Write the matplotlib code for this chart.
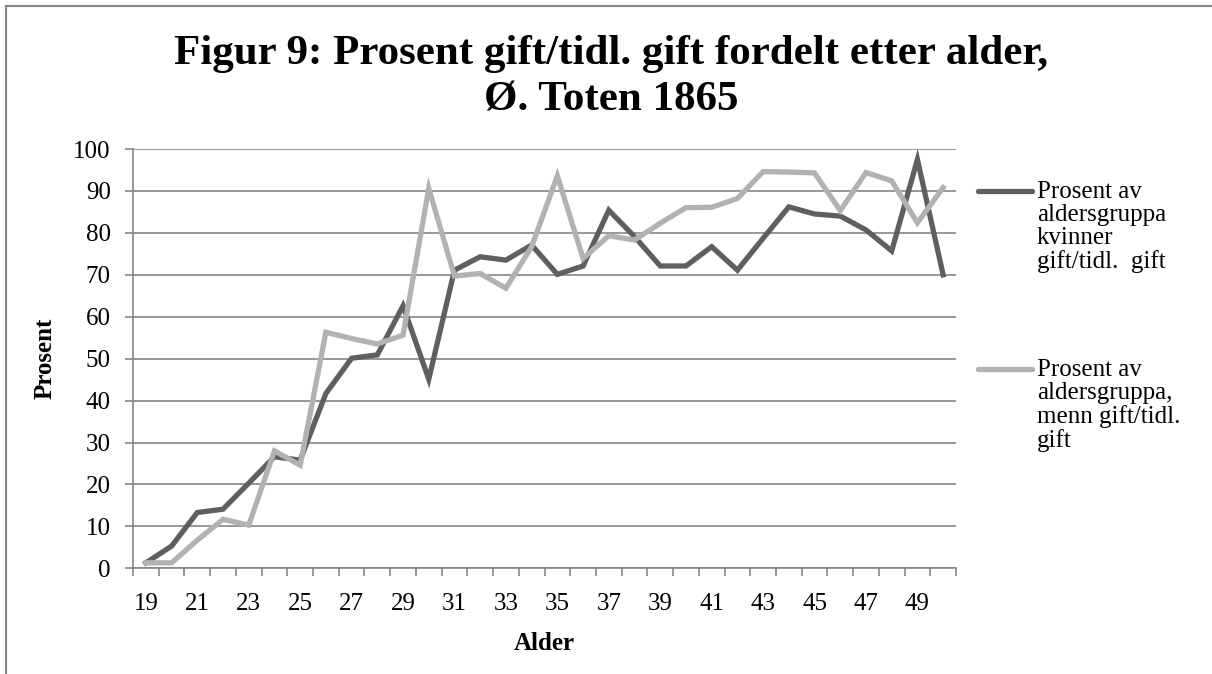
#!/usr/bin/env python3
import matplotlib
matplotlib.use("Agg")
import matplotlib.pyplot as plt
from matplotlib.lines import Line2D

# Alder 19..50
ages = list(range(19, 51))
# Prosent av aldersgruppa kvinner gift/tidl. gift
women = [1.3, 5.3, 13.3, 14.1, 20.3, 26.6, 25.8, 41.7, 50.1, 50.9, 62.6,
         45.1, 71.1, 74.3, 73.5, 77.1, 70.1, 72.1, 85.4, 79.1, 72.1,
         72.1, 76.7, 71.1, 78.7, 86.2, 84.5, 84.0, 80.7, 75.7, 97.5, 70.0]
# Prosent av aldersgruppa, menn gift/tidl. gift
men = [1.3, 1.3, 6.7, 11.7, 10.3, 28.0, 24.6, 56.3, 54.8, 53.5, 55.6,
       90.6, 69.7, 70.3, 66.8, 76.7, 93.6, 73.9, 79.3, 78.3, 82.3,
       86.0, 86.1, 88.2, 94.6, 94.5, 94.3, 85.3, 94.4, 92.4, 82.4, 90.8]
labels = ["Prosent av\naldersgruppa\nkvinner\ngift/tidl.  gift",
          "Prosent av\naldersgruppa,\nmenn gift/tidl.\ngift"]
colors = ["#5f5f5f", "#b2b2b2"]

plt.rcParams['font.family'] = ['Liberation Serif', 'DejaVu Serif']

W, H = 1212, 674
fig = plt.figure(figsize=(W / 100, H / 100), dpi=100)
ax = fig.add_axes([133 / W, 1 - 568.3 / H, (956 - 133) / W, (568.3 - 149) / H])

x = list(range(len(ages)))
ax.plot(x, women, color=colors[0], lw=3.8, solid_joinstyle='miter', zorder=3)
ax.plot(x, men, color=colors[1], lw=3.8, solid_joinstyle='miter', zorder=3)

ax.set_xlim(-0.5, len(ages) - 0.5)
ax.set_ylim(0, 100)
ax.set_yticks(range(0, 101, 10))
ax.tick_params(axis='y', length=6, width=1.2, color='#868686', labelsize=18, pad=10)
ax.set_xticks(x[::2])
ax.set_xticklabels([str(a) for a in ages[::2]])
ax.set_xticks([i - 0.5 for i in range(len(ages) + 1)], minor=True)
ax.tick_params(axis='x', which='major', length=0, labelsize=18, pad=18)
ax.tick_params(axis='x', which='minor', length=6, width=1.2, color='#868686')
ax.grid(axis='y', color='#868686', lw=1.2, zorder=0)
for s in ['top', 'right']:
    ax.spines[s].set_visible(False)
for s in ['left', 'bottom']:
    ax.spines[s].set_color('#868686')
    ax.spines[s].set_linewidth(1.2)

ax.set_xlabel("Alder", fontsize=18, fontweight='bold', labelpad=12)
ax.set_ylabel("Prosent", fontsize=18, fontweight='bold', labelpad=12)

fig.text(611 / W, 1 - 77 / H,
         "Figur 9: Prosent gift/tidl. gift fordelt etter alder,\nØ. Toten 1865",
         ha='center', va='center', fontsize=31, fontweight='bold', linespacing=1.3)

# legend
for lab, col, ypix in zip(labels, colors, [191, 369]):
    fig.add_artist(Line2D([978 / W, 1032 / W], [1 - ypix / H] * 2,
                          color=col, lw=3.8, solid_capstyle='round'))
    fig.text(1037 / W, 1 - (ypix - 10) / H, lab, ha='left', va='top',
             fontsize=18, linespacing=1.05)

# chart border
fig.add_artist(Line2D([6 / W, 6 / W], [0, 1 - 6 / H], color='#868686', lw=1.5))
fig.add_artist(Line2D([6 / W, 1], [1 - 6 / H, 1 - 6 / H], color='#868686', lw=1.5))

fig.savefig("out.png", dpi=100)
